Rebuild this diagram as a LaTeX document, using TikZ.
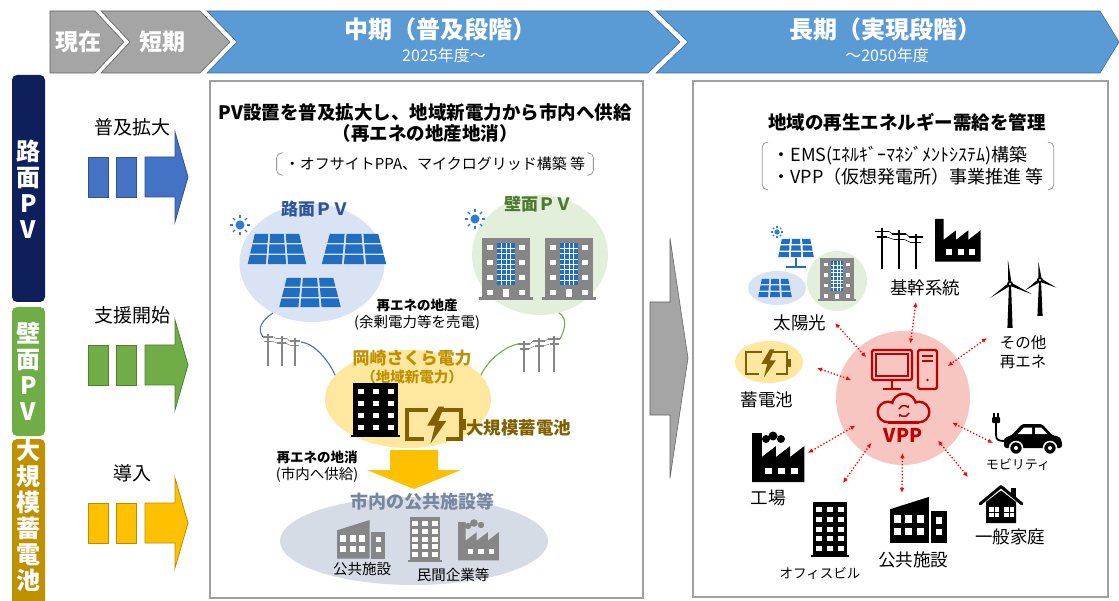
\documentclass[tikz,border=0pt]{standalone}
\usepackage{fontspec}
\setmainfont{Noto Sans CJK JP}
\usepackage{xcolor}
\usetikzlibrary{positioning,arrows.meta,calc,shapes.geometric}

\definecolor{bandblue}{HTML}{5B9BD5}
\definecolor{bandgray}{HTML}{A5A5A5}
\definecolor{navy}{HTML}{0F1F5C}
\definecolor{leafgreen}{HTML}{70AD47}
\definecolor{leafedge}{HTML}{507E32}
\definecolor{darkgold}{HTML}{BF9000}
\definecolor{amber}{HTML}{FFC000}
\definecolor{amberedge}{HTML}{BC8C00}
\definecolor{royal}{HTML}{4472C4}
\definecolor{royaledge}{HTML}{2F528F}
\definecolor{cellblue}{HTML}{1F6EC1}
\definecolor{sunblue}{HTML}{2E7CD8}
\definecolor{skyfill}{HTML}{DAE3F3}
\definecolor{leaffill}{HTML}{E2EFDA}
\definecolor{creamfill}{HTML}{FFE7A0}
\definecolor{mistfill}{HTML}{D6DCE5}
\definecolor{mistgray}{HTML}{76879F}
\definecolor{bronze}{HTML}{806000}
\definecolor{iconGray}{HTML}{868686}
\definecolor{vppred}{HTML}{C00000}
\definecolor{vppfill}{HTML}{F8C6C0}
\definecolor{roadtext}{HTML}{2F5597}
\definecolor{walltext}{HTML}{4D7A2E}
\definecolor{frame}{HTML}{A0A0A0}

% 太陽光パネル 3x3 (上辺中央, 上辺幅, 下辺幅, 高さ)
\newcommand{\pvgrid}[5]{%
  \begin{scope}[shift={(#1,#2)}]
    \foreach \pr in {0,1,2}{
      \foreach \pc in {0,1,2}{
        \pgfmathsetmacro{\ya}{\pr*#5/3+0.8}
        \pgfmathsetmacro{\yb}{(\pr+1)*#5/3-0.8}
        \pgfmathsetmacro{\wa}{#3+(#4-#3)*\ya/#5}
        \pgfmathsetmacro{\wb}{#3+(#4-#3)*\yb/#5}
        \fill[cellblue] ({-\wa/2+\pc*\wa/3+1},\ya) -- ({-\wa/2+(\pc+1)*\wa/3-1},\ya)
          -- ({-\wb/2+(\pc+1)*\wb/3-1},\yb) -- ({-\wb/2+\pc*\wb/3+1},\yb) -- cycle;
      }}
  \end{scope}}

% 太陽
\newcommand{\sunmark}[3]{%
  \begin{scope}[shift={(#1,#2)}, scale=#3]
    \fill[sunblue] (0,0) circle (4.5);
    \foreach \a in {0,45,...,315} \draw[sunblue, line width=1.3pt] (\a:7) -- (\a:10);
  \end{scope}}

% 壁面PVのビル
\newcommand{\pvblock}[3]{%
  \begin{scope}[shift={(#1,#2)}, scale=#3]
    \fill[iconGray] (0,0) rectangle (48,62);
    \fill[iconGray] (-3,59) rectangle (51,62);
    \fill[cellblue] (15,5) rectangle (33,47);
    \foreach \gx in {19.5,24,28.5} \draw[white, line width=0.4pt] (\gx,5) -- (\gx,47);
    \foreach \gy in {10.25,15.5,...,42} \draw[white, line width=0.4pt] (15,\gy) -- (33,\gy);
    \foreach \wy in {7,22,37,52}{
      \fill[white] (5,\wy) rectangle ++(6,5);
      \fill[white] (37,\wy) rectangle ++(6,5);
    }
    \fill[white] (21,51) rectangle (27,59);
  \end{scope}}

% 電柱 (位置, 色, 向き, 倍率)
\newcommand{\poles}[5]{%
  \begin{scope}[shift={(#1,#2)}, xscale=#4, scale=#5, #3]
    \foreach \px/\ptop in {0/0, 15/2, 30/5}{
      \draw[line width=2pt] (\px,\ptop) -- (\px,36);
      \draw[line width=1.8pt] (\px-6,\ptop+3) -- (\px+6,\ptop+3);
      \draw[line width=1.3pt] (\px-4.5,\ptop+8) -- (\px+4.5,\ptop+8);
    }
    \draw[line width=0.5pt] (6,3) -- (9,5) (21,5) -- (24,8) (4.5,8) -- (10.5,10) (19.5,10) -- (25.5,13);
  \end{scope}}

% ビル (左上, 幅, 高さ, 色, 列, 行)
\newcommand{\tower}[7]{%
  \begin{scope}[shift={(#1,#2)}]
    \fill[#5] (0,0) rectangle (#3,#4);
    \fill[#5] (-2,#4-2) rectangle (#3+2,#4);
    \foreach \pc in {1,...,#6}{
      \foreach \pr in {1,...,#7}{
        \fill[white] ({(\pc-0.5)*#3/#6-3},{(\pr-0.5)*(#4-6)/#7}) rectangle ++(6,5);
      }}
  \end{scope}}

% 工場
\newcommand{\factory}[4]{%
  \begin{scope}[shift={(#1,#2)}, scale=#3]
    \fill[#4] (0,45) -- (0,0) -- (9,0) -- (9,22) -- (22,12) -- (22,22) -- (35,12) -- (35,22)
      -- (48,12) -- (48,45) -- cycle;
    \foreach \wx in {12,24,36} \fill[white] (\wx,32) rectangle ++(6,6);
  \end{scope}}

% 公共施設
\newcommand{\hall}[4]{%
  \begin{scope}[shift={(#1,#2)}, scale=#3]
    \fill[#4] (0,45) -- (0,12) -- (38,0) -- (38,45) -- cycle;
    \fill[#4] (40,14) rectangle (56,45);
    \foreach \wx in {4,15,26} \foreach \wy in {18,30} \fill[white] (\wx,\wy) rectangle ++(7,7);
    \foreach \wy in {20,31} \fill[white] (45,\wy) rectangle ++(6,6);
  \end{scope}}

% 蓄電池 (左上, 倍率, 色, 線幅)
\newcommand{\storagecell}[5]{%
  \begin{scope}[shift={(#1,#2)}, scale=#3]
    \draw[#4, line width=#5] (19,0) -- (0,0) -- (0,26) -- (15,26);
    \draw[#4, line width=#5] (31,0) -- (48,0) -- (48,26) -- (35,26);
    \fill[#4] (48,8) rectangle (53,18);
    \fill[#4] (28,-3) -- (18,14) -- (25,14) -- (21,30) -- (35,10) -- (28,10) -- (33,-3) -- cycle;
  \end{scope}}

% 風車 (ハブ, 羽根, 塔)
\newcommand{\turbine}[4]{%
  \begin{scope}[shift={(#1,#2)}]
    \fill (-1,0) -- (1,0) -- (2.6,#4) -- (-2.6,#4) -- cycle;
    \foreach \a in {265,25,145} \fill (0,0) -- (\a+25:3.5) -- (\a:#3) -- (\a-25:3.5) -- cycle;
    \fill (0,0) circle (3);
    \fill[white] (0,0) circle (1.2);
  \end{scope}}

% 家
\newcommand{\home}[3]{%
  \begin{scope}[shift={(#1,#2)}, scale=#3]
    \fill (33,3) rectangle (38,12);
    \draw[line width=3pt, line cap=round, line join=round] (2,19) -- (23,1.5) -- (44,19);
    \fill (8,17) -- (23,5.5) -- (38,17) -- (38,38) -- (8,38) -- cycle;
    \foreach \hx in {11,16.5,26,31.5} \foreach \hy in {22,27.5} \fill[white] (\hx,\hy) rectangle ++(4.5,4.5);
  \end{scope}}

% 電気自動車
\newcommand{\evcar}[3]{%
  \begin{scope}[shift={(#1,#2)}, scale=#3]
    \fill (1,0) rectangle (2.6,4); \fill (5.4,0) rectangle (7,4);
    \fill[rounded corners=1pt] (0,4) rectangle (8,10);
    \draw[line width=1.8pt] (4,10) -- (4,22) .. controls (4,27) and (7,28) .. (12,28);
    \fill[rounded corners=2.5pt] (12,35) -- (12,25) -- (20,22) -- (30,11) -- (50,11) -- (60,22)
      -- (68,24) -- (70,29) -- (70,35) -- cycle;
    \fill[white] (32,14.5) -- (40,14.5) -- (40,21) -- (26,21) -- cycle;
    \fill[white] (43,14.5) -- (49,14.5) -- (55.5,21) -- (43,21) -- cycle;
    \filldraw[fill=black, draw=white, line width=1.5pt] (24,35) circle (6.5) (58,35) circle (6.5);
    \fill[white] (24,35) circle (2) (58,35) circle (2);
  \end{scope}}

\begin{document}
\begin{tikzpicture}[x=1pt, y=-1pt,
    bandtitle/.style={text=white, font=\bfseries\fontsize{24}{27}\selectfont},
    bandsub/.style={text=white, font=\fontsize{16}{19}\selectfont},
    sidetext/.style={text=white, font=\bfseries\fontsize{24}{26}\selectfont, align=center, inner sep=0pt},
    steplabel/.style={font=\fontsize{19}{22}\selectfont},
    panelbox/.style={draw=frame, line width=2pt},
    headline/.style={font=\bfseries\fontsize{18.5}{21}\selectfont, align=center},
    memo/.style={font=\fontsize{15}{18}\selectfont, align=left, inner xsep=8pt, inner ysep=4pt},
    bracket/.style={draw=gray!80, line width=0.8pt, rounded corners=5pt},
    tag/.style={font=\fontsize{17.5}{19}\selectfont, align=center, inner sep=1pt},
    smalltag/.style={font=\fontsize{14.5}{17}\selectfont, align=center, inner sep=1pt},
    boldtag/.style={font=\bfseries\fontsize{13.5}{16}\selectfont, inner sep=1pt},
    blob/.style={ellipse, inner sep=0pt},
    wire/.style={line width=1.1pt},
    vpplink/.style={{Latex[length=5pt,width=4.5pt]}-{Latex[length=5pt,width=4.5pt]}, draw=red, dotted, line width=1.3pt}
]
    \useasboundingbox (0,0) rectangle (1119,601);
    \fill[white] (0,0) rectangle (1119,601);

    % 上部の帯
    \filldraw[fill=bandgray, draw=bandgray!60!black, line width=0.6pt] (50,11) -- (95,11) -- (124,42) -- (95,73) -- (50,73) -- cycle;
    \filldraw[fill=bandgray, draw=bandgray!60!black, line width=0.6pt] (101,11) -- (200,11) -- (230,42) -- (200,73) -- (101,73) -- (130,42) -- cycle;
    \filldraw[fill=bandblue, draw=bandblue!70!black, line width=0.6pt] (207,11) -- (648,11) -- (680,42) -- (648,73) -- (207,73) -- (237,42) -- cycle;
    \filldraw[fill=bandblue, draw=bandblue!70!black, line width=0.6pt] (656,11) -- (1100,11) -- (1119,42) -- (1100,73) -- (656,73) -- (688,42) -- cycle;
    \node[bandtitle, font=\bfseries\fontsize{23}{25}\selectfont] (now) at (78,42) {現在};
    \node[bandtitle, font=\bfseries\fontsize{23}{25}\selectfont] (short) at (162,42) {短期};
    \node[bandtitle] (mid) at (440,29) {中期（普及段階）};
    \node[bandsub] (midyear) at (444,55) {2025年度～};
    \node[bandtitle] (long) at (885,29) {長期（実現段階）};
    \node[bandsub] (longyear) at (887,55) {～2050年度};

    % 左の列
    \fill[navy, rounded corners=5pt] (12,75) rectangle (45,302);
    \fill[leafgreen, rounded corners=5pt] (12,307) rectangle (45,436);
    \fill[darkgold, rounded corners=5pt] (12,439) rectangle (45,615);
    \node[sidetext] (roadbar) at (28.5,189) {路\\面\\P\\V};
    \node[sidetext] (wallbar) at (28.5,371) {壁\\面\\P\\V};
    \node[sidetext] (cellbar) at (28.5,515) {大\\規\\模\\蓄\\電\\池};

    \foreach \yy/\tint/\edge/\lab in {177/royal/royaledge/普及拡大, 365/leafgreen/leafedge/支援開始, 523/amber/amberedge/導入}{
        \node[steplabel] (lab\yy) at (132,\yy-50) {\lab};
        \filldraw[fill=\tint, draw=\edge, line width=0.8pt] (88,\yy-20) rectangle (108,\yy+20);
        \filldraw[fill=\tint, draw=\edge, line width=0.8pt] (116,\yy-20) rectangle (136,\yy+20);
        \filldraw[fill=\tint, draw=\edge, line width=0.8pt] (145,\yy-20) -- (175,\yy-20) -- (175,\yy-45)
            -- (188,\yy) -- (175,\yy+45) -- (175,\yy+20) -- (145,\yy+20) -- cycle;
    }

    % 枠と中央の矢印
    \draw[panelbox] (210,81) rectangle (643,598);
    \draw[panelbox] (693,81) rectangle (1108,597);
    \filldraw[fill=bandgray, draw=gray!80!black, line width=0.6pt] (650,302) -- (670,302) -- (670,238)
        -- (688,358) -- (670,478) -- (670,415) -- (650,415) -- cycle;

    % 中期
    \node[headline] (midhead) at (425,123) {PV設置を普及拡大し、地域新電力から市内へ供給\\（再エネの地産地消）};
    \node[memo] (midmemo) at (435,164) {・オフサイトPPA、マイクログリッド構築 等};
    \draw[bracket] ([xshift=6pt]midmemo.north west) -- (midmemo.north west) -- (midmemo.south west) -- ([xshift=6pt]midmemo.south west);
    \draw[bracket] ([xshift=-6pt]midmemo.north east) -- (midmemo.north east) -- (midmemo.south east) -- ([xshift=-6pt]midmemo.south east);

    \node[blob, fill=skyfill, minimum width=145pt, minimum height=118pt] (roadpv) at (312,263) {};
    \node[blob, fill=leaffill, minimum width=136pt, minimum height=120pt] (wallpv) at (540,255) {};
    \node[blob, fill=creamfill, minimum width=166pt, minimum height=98pt] (sakura) at (408,399) {};
    \node[blob, fill=mistfill, minimum width=268pt, minimum height=88pt] (pubarea) at (414,541) {};

    \node[font=\bfseries\fontsize{17}{20}\selectfont, text=roadtext] (roadlab) at (315,209) {路面ＰＶ};
    \node[font=\bfseries\fontsize{17}{20}\selectfont, text=walltext] (walllab) at (538,204) {壁面ＰＶ};
    \sunmark{240}{225}{1}
    \sunmark{475}{219}{1}
    \pvgrid{277}{233}{46}{61}{32}
    \pvgrid{354}{233}{50}{67}{32}
    \pvgrid{310}{277}{48}{64}{31}
    \pvblock{482}{238}{1}
    \pvblock{545}{238}{1}

    \node[boldtag] (localgen) at (417,305) {再エネの地産};
    \node[smalltag] (localgensub) at (417,323) {(余剰電力等を売電)};

    \poles{268}{334}{iconGray}{1}{0.9}
    \poles{554}{336}{iconGray}{-1}{1}
    \coordinate (poleL) at (263,337);
    \coordinate (poleLb) at (301,342);
    \coordinate (poleR) at (560,339);
    \coordinate (poleRb) at (518,344);
    \draw[wire, royal] (roadpv.232) .. controls +(-12,8) and +(-6,-8) .. (poleL);
    \draw[wire, royal] (poleLb) .. controls +(16,2) and +(-4,-10) .. (sakura.162);
    \draw[wire, leafgreen] (wallpv.288) .. controls +(10,6) and +(4,-8) .. (poleR);
    \draw[wire, leafgreen] (poleRb) .. controls +(-18,4) and +(4,-10) .. (sakura.18);

    \node[font=\bfseries\fontsize{17}{20}\selectfont, text=darkgold] (sakuralab) at (412,358) {岡崎さくら電力};
    \node[font=\bfseries\fontsize{14.5}{17}\selectfont, text=darkgold] (sakurasub) at (412,377) {（地域新電力）};
    \tower{353}{383}{45}{54}{black}{3}{4}
    \storagecell{407}{410}{1.12}{bronze}{3.5pt}
    \node[anchor=west, font=\bfseries\fontsize{17.5}{20}\selectfont, text=bronze, inner sep=1pt] (biglab) at (465,428) {大規模蓄電池};

    \node[boldtag] (localuse) at (317,457) {再エネの地消};
    \node[smalltag] (localusesub) at (317,475) {(市内へ供給)};
    \fill[amber] (390,450) -- (438,450) -- (438,470) -- (461,470) -- (414,489) -- (367,470) -- (390,470) -- cycle;

    \node[font=\bfseries\fontsize{18}{21}\selectfont, text=mistgray] (publab) at (422,502) {市内の公共施設等};
    \hall{337}{520}{0.86}{iconGray}
    \tower{410}{517}{30}{45}{iconGray}{3}{5}
    \factory{458}{522}{0.85}{iconGray}
    \fill[iconGray] (468,526) circle (3.2) (474,523) circle (3.8) (481,525) circle (3.2);
    \node[smalltag] (hallname) at (362,569) {公共施設};
    \node[smalltag] (firmname) at (453,575) {民間企業等};

    % 長期
    \node[headline] (righthead) at (907,122) {地域の再生エネルギー需給を管理};
    \node[memo, font=\fontsize{18}{22}\selectfont, inner xsep=10pt] (rightmemo) at (908,166) {・EMS(ｴﾈﾙｷﾞｰﾏﾈｼﾞﾒﾝﾄｼｽﾃﾑ)構築\\・VPP（仮想発電所）事業推進 等};
    \draw[bracket] ([xshift=6pt]rightmemo.north west) -- (rightmemo.north west) -- (rightmemo.south west) -- ([xshift=6pt]rightmemo.south west);
    \draw[bracket] ([xshift=-6pt]rightmemo.north east) -- (rightmemo.north east) -- (rightmemo.south east) -- ([xshift=-6pt]rightmemo.south east);

    \node[blob, fill=skyfill, minimum width=58pt, minimum height=34pt] (solarbg) at (777,288) {};
    \node[blob, fill=leaffill, minimum width=60pt, minimum height=60pt] (wallbg) at (837,281) {};
    \node[blob, fill=creamfill, minimum width=68pt, minimum height=42pt] (storebg) at (769,362) {};
    \node[circle, fill=vppfill, minimum size=134pt, inner sep=0pt] (vpp) at (903,398) {};

    \sunmark{777}{232}{0.6}
    \pvgrid{796}{238}{30}{38}{20}
    \draw[cellblue, line width=2pt] (796,258) -- (796,266) (786,267) -- (806,267);
    \pvgrid{775}{278}{28}{36}{20}
    \pvblock{820}{258}{0.7}
    \poles{882}{228}{black}{1}{1.14}
    \factory{935}{219}{0.95}{black}
    \turbine{1010}{284}{24}{44}
    \turbine{1040}{280}{18}{36}
    \storagecell{746}{352}{0.85}{bronze}{2.6pt}

    % VPP
    \draw[vppred, line width=2.4pt, rounded corners=1.5pt] (872,350) rectangle (912,380);
    \draw[vppred, line width=1.2pt] (876,354) rectangle (908,376);
    \draw[vppred, line width=2.4pt] (892,380) -- (892,388) (883,389) -- (901,389);
    \draw[vppred, line width=2.2pt, rounded corners=1.5pt] (918,350) rectangle (937,389);
    \draw[vppred, line width=1.6pt] (922,356) -- (933,356) (922,361) -- (933,361);
    \fill[vppred] (927.5,380) circle (1.4);
    \fill[vppred] (888,412) circle (11.5) (904,406) circle (13.5) (919,412) circle (11.5);
    \fill[vppred] (888,410) rectangle (919,423.5);
    \fill[vppfill] (888,412) circle (9) (904,406) circle (11) (919,412) circle (9);
    \fill[vppfill] (888,412) rectangle (919,421);
    \draw[vppred, line width=1.5pt, -{Stealth[length=3pt,width=4pt]}] ($(904,411)+(200:5.5)$) arc[start angle=200, end angle=330, radius=5.5];
    \draw[vppred, line width=1.5pt, -{Stealth[length=3pt,width=4pt]}] ($(904,411)+(20:5.5)$) arc[start angle=20, end angle=150, radius=5.5];
    \node[font=\bfseries\fontsize{19}{22}\selectfont, text=vppred] (vpplab) at (903,435) {VPP};

    \factory{752}{433}{1.09}{black}
    \fill (766,439) circle (4) (773,436) circle (4.5) (781,439) circle (4);
    \tower{813}{502}{34}{55}{black}{3}{5}
    \hall{890}{497}{1.02}{black}
    \home{978}{485}{1}
    \evcar{992}{413}{1}

    \node[tag] (solarname) at (800,323) {太陽光};
    \node[tag] (gridname) at (925,288) {基幹系統};
    \node[tag, font=\fontsize{15.5}{19}\selectfont] (othername) at (1023,352) {その他\\再エネ};
    \node[tag] (storename) at (767,400) {蓄電池};
    \node[tag] (plantname) at (768,498) {工場};
    \node[tag, font=\fontsize{13.5}{16}\selectfont] (officename) at (820,573) {オフィスビル};
    \node[tag] (hallname2) at (913,560) {公共施設};
    \node[tag] (homename) at (1010,537) {一般家庭};
    \node[tag, font=\fontsize{13}{15}\selectfont] (mobilityname) at (1018,465) {モビリティ};

    \foreach \nm/\ax/\ay in {solar/835/323, grid/916/302, other/987/338, store/817/368, plant/808/453,
                             office/843/483, hall/902/493, home/968/477, mobility/993/443}{
        \coordinate (\nm) at (\ax,\ay);
        \draw[vpplink] (\nm) -- ($(vpp)!55pt!(\nm)$);
    }
\end{tikzpicture}
\end{document}
